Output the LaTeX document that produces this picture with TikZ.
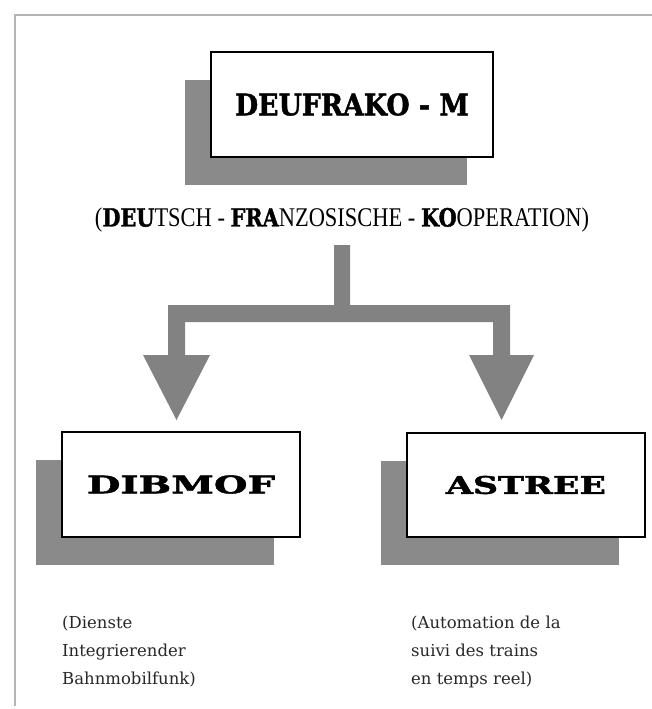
\documentclass[tikz,border=0pt]{standalone}
\usepackage{fontspec}
\usepackage{graphicx}
\setmainfont{Liberation Serif}
\newfontfamily\slabfont{DejaVu Serif}
\newfontfamily\heavyfont[FakeBold=1.6]{DejaVu Serif Bold}
\usetikzlibrary{shadows}
\definecolor{shadegray}{RGB}{138,138,138}
\definecolor{arrowgray}{RGB}{130,130,130}
\definecolor{framegray}{RGB}{180,180,180}
\definecolor{notegray}{RGB}{40,40,40}
\tikzset{
  titlebox/.style={draw=black, line width=1.6pt, fill=white, inner sep=0pt,
    drop shadow={shadow xshift=-26pt, shadow yshift=-28pt, fill=shadegray, opacity=1}},
  notetext/.style={font=\slabfont\fontsize{16.5}{28}\selectfont, text=notegray, align=left, inner sep=0pt, anchor=north west},
}
\newcommand{\hv}[1]{{\heavyfont\fontsize{25}{25}\selectfont #1}}
\newcommand{\boxtitle}[3]{\resizebox{#1}{#2}{\heavyfont\fontsize{30}{30}\selectfont #3}}
\begin{document}
\begin{tikzpicture}[x=1pt,y=-1pt]
\useasboundingbox (0,0) rectangle (652,709);
\fill[white] (0,0) rectangle (652,709);
% frame
\draw[framegray, line width=1.4pt] (652,15) -- (15,15) -- (15,706);
% boxes
\node[titlebox, minimum width=282pt, minimum height=105pt] (deufrako) at (352,104.5)
  {\boxtitle{234pt}{22pt}{DEUFRAKO - M}};
\node[titlebox, minimum width=238pt, minimum height=105pt] (dibmof) at (181,484.5)
  {\boxtitle{188pt}{18pt}{DIBMOF}};
\node[titlebox, minimum width=238pt, minimum height=104pt] (astree) at (526,485)
  {\boxtitle{160pt}{18pt}{ASTREE}};
% subtitle
\node[inner sep=0pt] (sub) at (342,220)
  {\resizebox{494pt}{\height}{\fontsize{27}{27}\selectfont
   (\hv{DEU}TSCH - \hv{FRA}NZOSISCHE - \hv{KO}OPERATION)}};
% branching arrow
\coordinate (stemtop) at (342,245);
\fill[arrowgray]
  (334,245) -- (350,245) -- (350,305) -- (510,305) -- (510,355)
  -- (534,355) -- (501.5,420) -- (469,355) -- (493,355) -- (493,322)
  -- (185,322) -- (185,355) -- (210,355) -- (176.5,420) -- (143,355)
  -- (168,355) -- (168,305) -- (334,305) -- cycle;
% notes
\node[notetext] (note1) at (62,616) {(Dienste\\Integrierender\\Bahnmobilfunk)};
\node[notetext] (note2) at (411,616) {(Automation de la\\suivi des trains\\en temps reel)};
\end{tikzpicture}
\end{document}
